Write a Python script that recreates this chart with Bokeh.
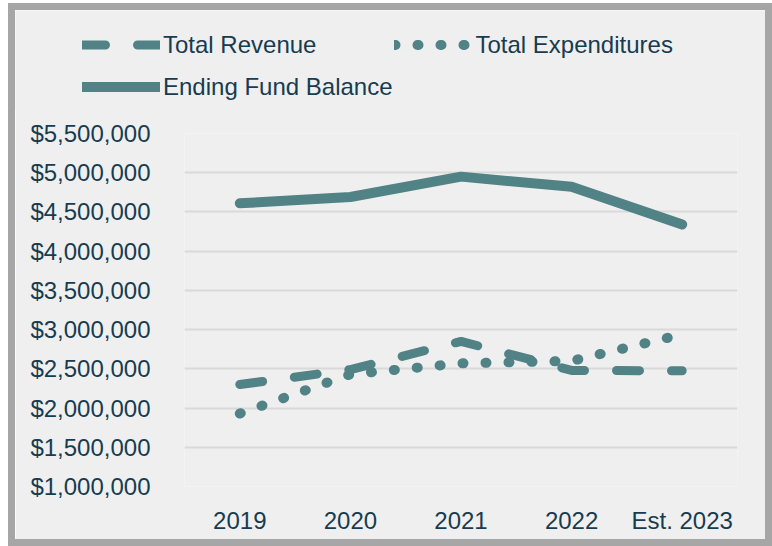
from bokeh.plotting import figure
from bokeh.models import FactorRange, Range1d, FixedTicker, NumeralTickFormatter, Legend, LegendItem
from bokeh.embed import file_html
from bokeh.resources import INLINE

years = ["2019", "2020", "2021", "2022", "Est. 2023"]
total_revenue = [2300000, 2490000, 2850000, 2480000, 2475000]
total_expenditures = [1930000, 2430000, 2570000, 2600000, 2940000]
ending_fund_balance = [4610000, 4690000, 4950000, 4820000, 4340000]
y_ticks = [1000000, 1500000, 2000000, 2500000, 3000000, 3500000,
           4000000, 4500000, 5000000, 5500000]

FONT = "Liberation Sans"
TEXT = "#173c4f"
LINE = "#518285"
BG = "#efefef"

rev_style = dict(line_color=LINE, line_width=9, line_dash="23 32",
                 line_cap="round", line_join="round")
exp_style = dict(line_color=LINE, line_width=10, line_dash="1 22",
                 line_cap="round", line_join="round")
fund_style = dict(line_color=LINE, line_width=10,
                  line_cap="round", line_join="round")

# ---- main chart ----
p = figure(width=750, height=529,
           x_range=FactorRange(*years, range_padding=0),
           y_range=Range1d(1000000, 5500000),
           output_backend="svg", toolbar_location=None,
           min_border_left=169, min_border_right=28,
           min_border_top=123, min_border_bottom=53,
           background_fill_color=BG, border_fill_color=BG,
           outline_line_color=None)
p.styles = {"margin-left": "15px", "margin-top": "10px",
            "box-shadow": "0 0 0 7px #a6a6a6"}

p.line(years, total_revenue, **rev_style)
p.line(years, total_expenditures, **exp_style)
p.line(years, ending_fund_balance, **fund_style)

p.yaxis.ticker = FixedTicker(ticks=y_ticks)
p.yaxis.formatter = NumeralTickFormatter(format="$0,0")
for ax in (p.xaxis[0], p.yaxis[0]):
    ax.axis_line_color = None
    ax.major_tick_line_color = None
    ax.minor_tick_line_color = None
    ax.major_label_text_font = FONT
    ax.major_label_text_font_size = "24px"
    ax.major_label_text_color = TEXT
p.yaxis.major_label_standoff = 28
p.xaxis.major_label_standoff = 14

p.xgrid.grid_line_color = None
p.ygrid.grid_line_color = "#d9d9d9"
p.ygrid.grid_line_width = 2

# ---- legend strip, overlaid on the top margin of the chart ----
pl = figure(width=750, height=100, x_range=Range1d(0, 1), y_range=Range1d(0, 1),
            output_backend="svg", toolbar_location=None,
            min_border_left=0, min_border_right=0, min_border_top=0, min_border_bottom=0,
            background_fill_color=BG, border_fill_color=BG, outline_line_color=None)
pl.styles = {"position": "absolute", "left": "15px", "top": "10px"}
pl.axis.visible = False
pl.grid.visible = False
# legend proxies (outside the strip's visible range)
l_rev = pl.line(x=[5, 6], y=[5, 6], **rev_style)
l_exp = pl.line(x=[5, 6], y=[5, 6], **exp_style)
l_fund = pl.line(x=[5, 6], y=[5, 6], **fund_style)

leg_style = dict(padding=0, margin=0, glyph_width=78, glyph_height=39,
                 label_height=39, label_standoff=3,
                 label_text_font=FONT, label_text_font_size="24px",
                 label_text_color=TEXT, background_fill_alpha=0,
                 border_line_color=None)
legend1 = Legend(items=[
    LegendItem(label="Total Revenue", renderers=[l_rev]),
    LegendItem(label="Total Expenditures", renderers=[l_exp]),
], orientation="horizontal", spacing=78, location=(67, 46), **leg_style)
legend2 = Legend(items=[
    LegendItem(label="Ending Fund Balance", renderers=[l_fund]),
], orientation="horizontal", location=(67, 4), **leg_style)
pl.add_layout(legend1, "center")
pl.add_layout(legend2, "center")

open("out.html", "w").write(file_html([p, pl], INLINE))
